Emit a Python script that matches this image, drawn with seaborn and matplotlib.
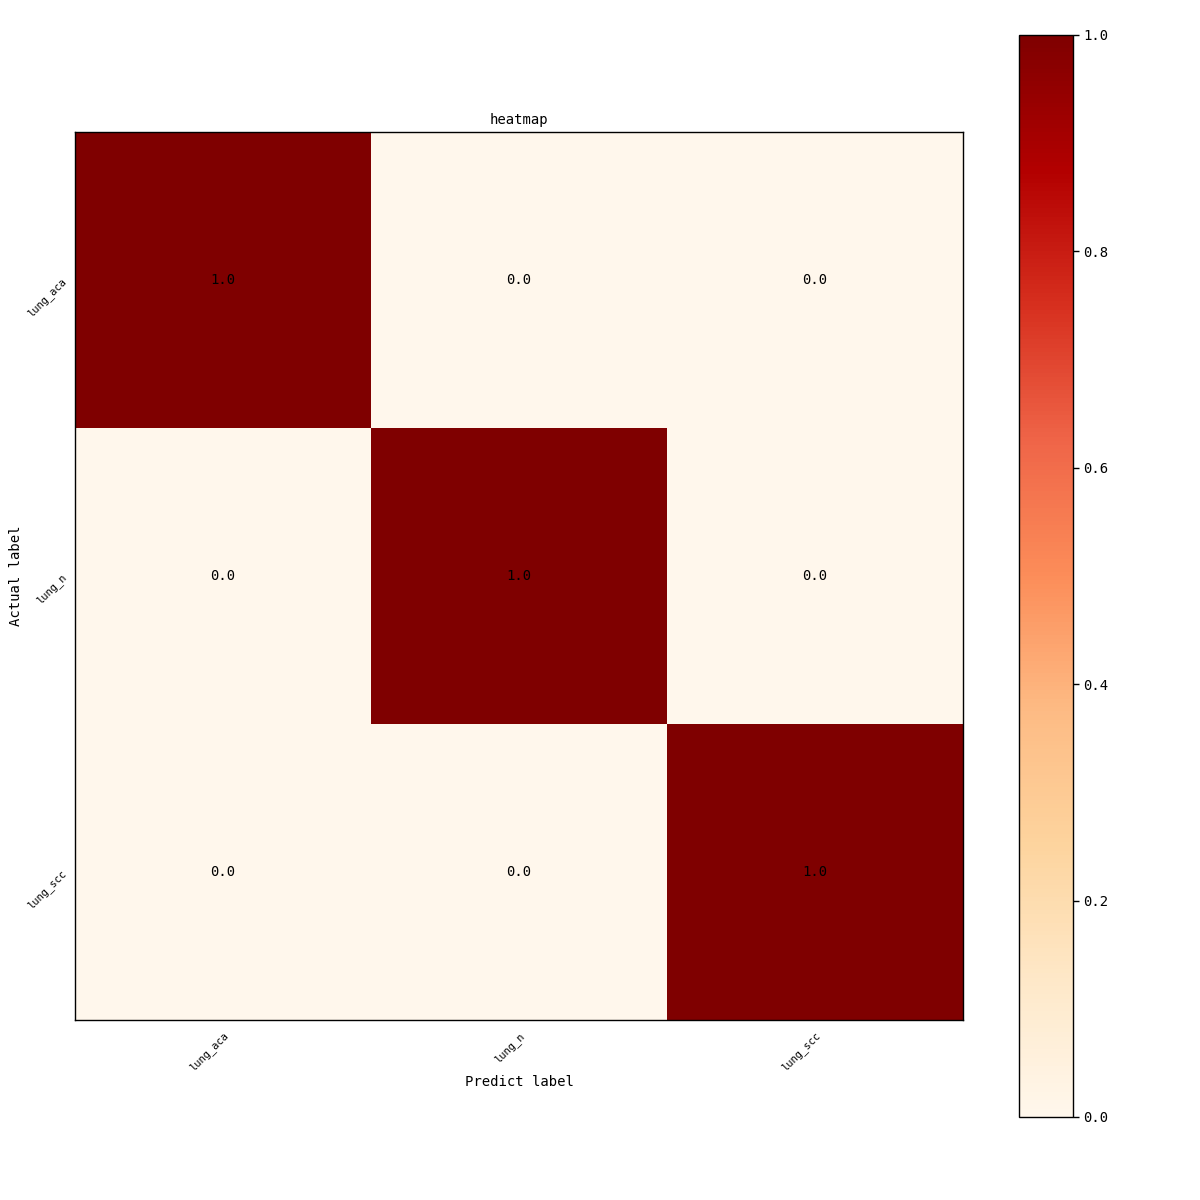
import numpy as np
import pandas as pd
import seaborn as sns
import matplotlib
matplotlib.use("Agg")
import matplotlib.pyplot as plt

classes = ["lung_aca", "lung_n", "lung_scc"]
row_aca = [1.0, 0.0, 0.0]
row_n = [0.0, 1.0, 0.0]
row_scc = [0.0, 0.0, 1.0]

cm = pd.DataFrame([row_aca, row_n, row_scc], index=classes, columns=classes)

sns.set_style("white")
plt.rcParams['font.family'] = ['DejaVu Sans Mono', 'Noto Sans CJK SC']
plt.rcParams['text.color'] = 'black'
plt.rcParams['axes.labelcolor'] = 'black'
plt.rcParams['xtick.color'] = 'black'
plt.rcParams['ytick.color'] = 'black'

fig = plt.figure(figsize=(12, 12), dpi=100)
ax = fig.add_axes([75 / 1200, 180 / 1200, 888 / 1200, 888 / 1200])
cax = fig.add_axes([1019 / 1200, 83 / 1200, 54 / 1200, 1082 / 1200])

sns.heatmap(cm, ax=ax, cbar_ax=cax, cmap="OrRd", vmin=0, vmax=1,
            annot=True, fmt=".1f", annot_kws={"color": "black", "fontsize": 10},
            square=False)

for s in ax.spines.values():
    s.set_visible(True)
    s.set_color("black")
    s.set_linewidth(1)
ax.tick_params(axis="both", length=4, width=1, color="black", labelsize=7.5)
ax.set_xticklabels(classes, rotation=45, ha="right", rotation_mode="anchor")
ax.set_yticklabels(classes, rotation=45, ha="right", rotation_mode="anchor")
ax.set_title("heatmap", fontsize=10, color="black")
ax.set_xlabel("Predict label", fontsize=10)
ax.set_ylabel("Actual label", fontsize=10)
ax.xaxis.set_label_coords(0.5, -0.062)
ax.yaxis.set_label_coords(-0.058, 0.5)

cb = ax.collections[0].colorbar
cb.outline.set_visible(True)
cb.outline.set_linewidth(1)
cb.outline.set_edgecolor("black")
cb.set_ticks([0.0, 0.2, 0.4, 0.6, 0.8, 1.0])
cb.ax.tick_params(length=4, width=1, color="black", labelsize=10)
cb.ax.yaxis.set_major_formatter(matplotlib.ticker.FormatStrFormatter("%.1f"))

fig.savefig("out.png", dpi=100)
